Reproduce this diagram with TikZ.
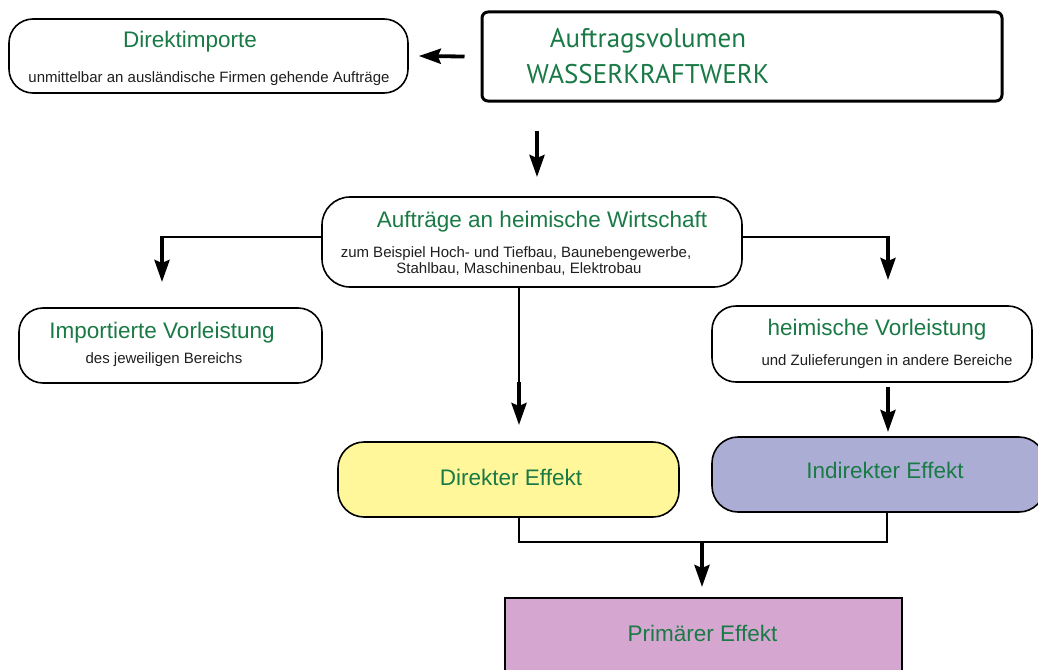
\documentclass[tikz,border=0pt]{standalone}
\usepackage{fontspec}
\setmainfont{Liberation Sans}
\newfontfamily\myrfont{PT Sans}
\usetikzlibrary{arrows.meta,calc}
\definecolor{tgreen}{RGB}{26,122,70}
\definecolor{fyellow}{RGB}{255,247,153}
\definecolor{fblue}{RGB}{171,173,212}
\definecolor{fpink}{RGB}{212,166,208}
\tikzset{
  box/.style={draw=black, line width=1.6pt, inner sep=0pt, fill=white},
  rbox/.style={box, rounded corners=24pt},
  ttl/.style={text=tgreen, font=\fontsize{22.5}{27}\selectfont, anchor=base, inner sep=0pt},
  subt/.style={text=black!88, font=\fontsize{15}{18}\selectfont, anchor=base, inner sep=0pt},
  bigt/.style={text=tgreen, font=\myrfont\fontsize{27}{32}\selectfont, anchor=base, inner sep=0pt},
  thinline/.style={line width=1.8pt},
  arr/.style={line width=3.8pt, -{Stealth[length=22pt,width=15pt,inset=3pt]}}
}
\begin{document}
\begin{tikzpicture}[x=1pt,y=-1pt]
\useasboundingbox (0,0) rectangle (1038,669);
% boxes
\node[rbox, minimum width=399pt, minimum height=74pt] (dimp) at (208.5,56) {};
\node[box, line width=3pt, rounded corners=6pt, minimum width=520pt, minimum height=89pt] (auftrag) at (742,56.5) {};
\node[rbox, rounded corners=28pt, minimum width=420pt, minimum height=90pt] (heim) at (532,242) {};
\node[rbox, minimum width=303pt, minimum height=75pt] (impv) at (170.5,345.5) {};
\node[rbox, minimum width=320pt, minimum height=76pt] (heimv) at (872,344) {};
\node[rbox, rounded corners=26pt, fill=fyellow, minimum width=341pt, minimum height=75pt] (direkt) at (508.5,479.5) {};
\node[rbox, rounded corners=26pt, fill=fblue, minimum width=333pt, minimum height=75pt] (indirekt) at (878.5,474.5) {};
\node[box, fill=fpink, minimum width=397pt, minimum height=102pt] (prim) at (703.5,649) {};
% texts
\node[ttl] (t1) at (190,48) {Direktimporte};
\node[subt] (s1) at (209,82) {unmittelbar an ausländische Firmen gehende Aufträge};
\node[bigt] (t2a) at (648,48) {Auftragsvolumen};
\node[bigt] (t2b) at (648,83) {WASSERKRAFTWERK};
\node[ttl] (t3) at (542,227) {Aufträge an heimische Wirtschaft};
\node[subt] (s3a) at (516,257) {zum Beispiel Hoch- und Tiefbau, Baunebengewerbe,};
\node[subt] (s3b) at (519,273) {Stahlbau, Maschinenbau, Elektrobau};
\node[ttl] (t4) at (162,338) {Importierte Vorleistung};
\node[subt] (s4) at (164,363) {des jeweiligen Bereichs};
\node[ttl] (t5) at (877,335) {heimische Vorleistung};
\node[subt] (s5) at (887,365) {und Zulieferungen in andere Bereiche};
\node[ttl] (t6) at (511,485) {Direkter Effekt};
\node[ttl] (t7) at (885,478) {Indirekter Effekt};
\node[ttl] (t8) at (702.5,641) {Primärer Effekt};
% connector coordinates
\coordinate (a1) at ($(auftrag.west)+(-16,0)$);
\coordinate (a2) at ($(dimp.east)+(10,0)$);
\coordinate (d1) at (537,131);
\coordinate (d2) at (537,177);
\coordinate (hl) at (322,237);
\coordinate (hlc) at (162,237);
\coordinate (hlt) at (162,282);
\coordinate (hr) at (742,237);
\coordinate (hrc) at (888,237);
\coordinate (hrt) at (888,280);
\coordinate (hm) at (519,287);
\coordinate (hmc) at (519,382);
\coordinate (hmt) at (519,425);
\coordinate (v1) at (888,387);
\coordinate (v2) at (888,432);
\coordinate (bl) at (519,542);
\coordinate (br) at (887,542);
\coordinate (bm) at (702,542);
\coordinate (bt) at (702,587);
% connectors
\draw[arr] (a1) -- (a2);
\draw[arr] (d1) -- (d2);
\draw[thinline] (hl) -- (hlc);
\draw[arr] ($(hlc)+(0,-0.9)$) -- (hlt);
\draw[thinline] (hr) -- (hrc);
\draw[arr] ($(hrc)+(0,-0.9)$) -- (hrt);
\draw[thinline] (hm) -- (hmc);
\draw[arr] (hmc) -- (hmt);
\draw[arr] (v1) -- (v2);
\draw[thinline] (direkt.south -| bl) -- (bl) -- (br) -- (indirekt.south -| br);
\draw[arr] (bm) -- (bt);
\end{tikzpicture}
\end{document}
